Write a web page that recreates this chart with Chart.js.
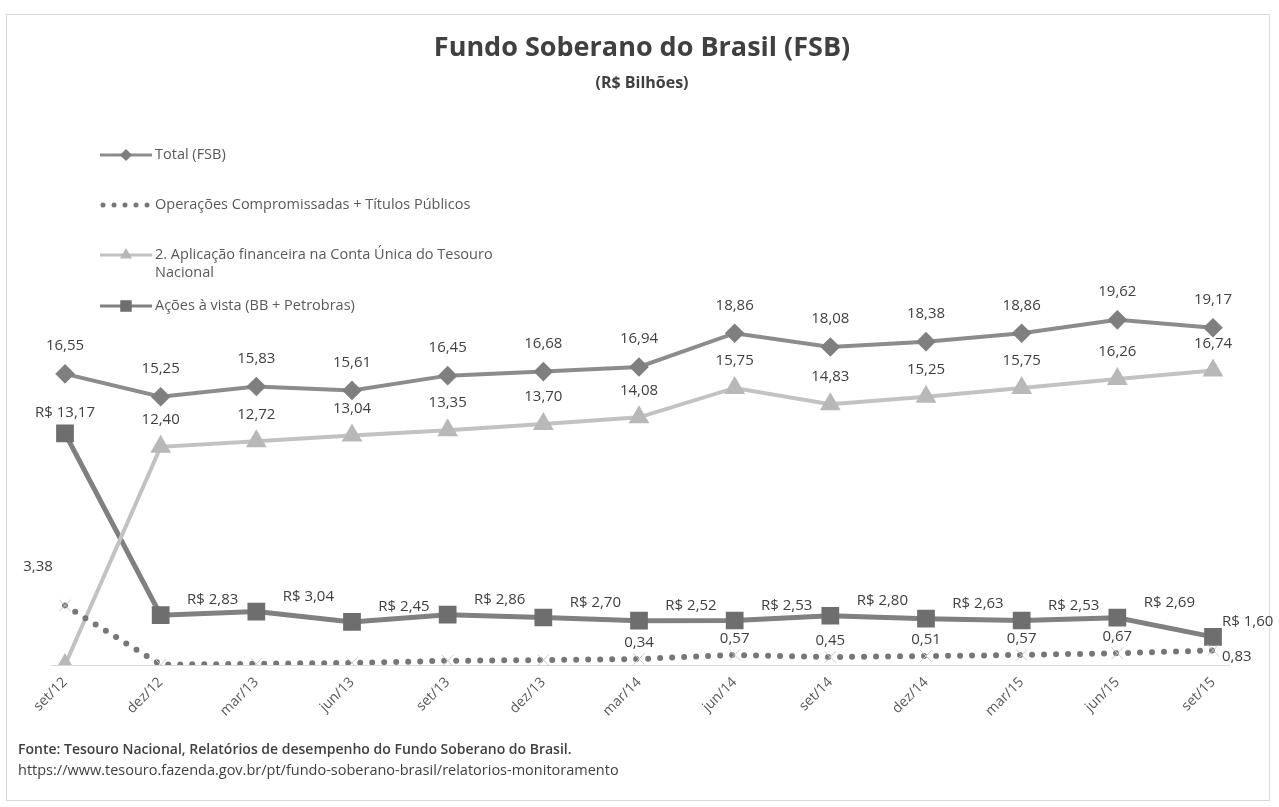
<!DOCTYPE html>
<html lang="pt-BR">
<head>
<meta charset="utf-8">
<title>Fundo Soberano do Brasil (FSB)</title>
<script src="https://cdn.jsdelivr.net/npm/chart.js@4/dist/chart.umd.min.js"></script>
<style>
  html, body { margin: 0; padding: 0; background: #fff; }
  body { width: 1279px; height: 807px; position: relative; overflow: hidden; font-family: "Open Sans", sans-serif; }
  #moldura { position: absolute; left: 6px; top: 14px; width: 1264px; height: 787px; border: 1px solid #d9d9d9; box-sizing: border-box; }
  #grafico { position: absolute; left: 0; top: 0; }
  .titulo { position: absolute; left: 0; width: 1284px; text-align: center; color: #404040; font-weight: 700; }
  #t1 { top: 27px; font-size: 27px; }
  #t2 { top: 71px; font-size: 16px; }
  .fonte { position: absolute; left: 18px; color: #404040; white-space: nowrap; }
  #f1 { top: 739px; font-size: 14px; font-weight: 600; }
  #f2 { top: 760px; font-size: 14.5px; }
</style>
</head>
<body>
<div id="moldura"></div>
<canvas id="grafico" width="1279" height="807"></canvas>
<div class="titulo" id="t1">Fundo Soberano do Brasil (FSB)</div>
<div class="titulo" id="t2">(R$ Bilhões)</div>
<div class="fonte" id="f1">Fonte: Tesouro Nacional, Relatórios de desempenho do Fundo Soberano do Brasil.</div>
<div class="fonte" id="f2">https://www.tesouro.fazenda.gov.br/pt/fundo-soberano-brasil/relatorios-monitoramento</div>
<script>
const categorias = ['set/12', 'dez/12', 'mar/13', 'jun/13', 'set/13', 'dez/13', 'mar/14', 'jun/14', 'set/14', 'dez/14', 'mar/15', 'jun/15', 'set/15'];
const total = [16.55, 15.25, 15.83, 15.61, 16.45, 16.68, 16.94, 18.86, 18.08, 18.38, 18.86, 19.62, 19.17];
const operacoes = [3.38, 0.02, 0.07, 0.12, 0.24, 0.28, 0.34, 0.57, 0.45, 0.51, 0.57, 0.67, 0.83];
const aplicacao = [0, 12.40, 12.72, 13.04, 13.35, 13.70, 14.08, 15.75, 14.83, 15.25, 15.75, 16.26, 16.74];
const acoes = [13.17, 2.83, 3.04, 2.45, 2.86, 2.70, 2.52, 2.53, 2.80, 2.63, 2.53, 2.69, 1.60];
const nomes = ['Total (FSB)', 'Operações Compromissadas + Títulos Públicos', '2. Aplicação financeira na Conta Única do Tesouro|Nacional', 'Ações à vista (BB + Petrobras)'];

const n = categorias.length;
const fmt = v => v.toFixed(2).replace('.', ',');

// posição de cada rótulo (dx, dy, alinhamento) ou null
function posRotulo(ds, j) {
  if (ds === 0) return [0, -28, 'center'];
  if (ds === 2) return j === 0 ? null : [0, -27, 'center'];
  if (ds === 3) {
    if (j === 0) return [0, -21, 'center'];
    if (j === n - 1) return [9, -15, 'left'];
    return [52, -15, 'center'];
  }
  if (ds === 1) {
    if (j === 0) return [-27, -39, 'center'];
    if (j === n - 1) return [9, 6, 'left'];
    return j >= 6 ? [0, -16, 'center'] : null;
  }
  return null;
}

const rotulos = {
  id: 'rotulos',
  beforeDatasetsDraw(chart) {
    const { ctx, chartArea } = chart;
    const y0 = chart.scales.y.getPixelForValue(0);
    ctx.save();
    ctx.strokeStyle = '#d9d9d9';
    ctx.lineWidth = 1;
    ctx.beginPath();
    ctx.moveTo(chartArea.left - 14, y0 + 0.5);
    ctx.lineTo(chartArea.right + 17, y0 + 0.5);
    ctx.stroke();
    ctx.restore();
  },
  afterDatasetsDraw(chart) {
    const ctx = chart.ctx;
    ctx.save();
    ctx.font = '15px "Open Sans"';
    ctx.fillStyle = '#404040';
    ctx.textBaseline = 'middle';
    chart.data.datasets.forEach((ds, i) => {
      chart.getDatasetMeta(i).data.forEach((pt, j) => {
        const p = posRotulo(i, j);
        if (!p) return;
        ctx.textAlign = p[2];
        const txt = (i === 3 ? 'R$ ' : '') + fmt(ds.data[j]);
        ctx.fillText(txt, pt.x + p[0], pt.y + p[1]);
      });
    });

    // legenda
    const ys = [155, 205, 255, 306];
    ctx.font = '14.5px "Open Sans"';
    ctx.textAlign = 'left';
    chart.data.datasets.forEach((ds, i) => {
      const y = ys[i];
      if (i === 1) {
        ctx.fillStyle = ds.borderColor;
        for (let k = 0; k < 5; k++) {
          ctx.beginPath();
          ctx.arc(103 + k * 11, y, 2.5, 0, Math.PI * 2);
          ctx.fill();
        }
      } else {
        ctx.strokeStyle = ds.borderColor;
        ctx.lineWidth = 3;
        ctx.beginPath();
        ctx.moveTo(100, y);
        ctx.lineTo(152, y);
        ctx.stroke();
        ctx.fillStyle = ds.pointBackgroundColor;
        ctx.strokeStyle = ds.pointBorderColor;
        Chart.helpers.drawPoint(ctx, {
          pointStyle: ds.pointStyle, radius: i === 3 ? 6 : 4, rotation: 0, borderWidth: 1
        }, 126, y);
      }
      ctx.fillStyle = '#595959';
      nomes[i].split('|').forEach((linha, k) => ctx.fillText(linha, 155, y + k * 18));
    });
    ctx.restore();
  }
};

new Chart(document.getElementById('grafico'), {
  type: 'line',
  data: {
    labels: categorias,
    datasets: [
      {
        label: nomes[0], data: total,
        borderColor: '#8c8c8c', borderWidth: 4,
        pointStyle: 'rectRot', pointRadius: 7,
        pointBackgroundColor: '#7f7f7f', pointBorderColor: '#7f7f7f'
      },
      {
        label: nomes[1], data: operacoes,
        borderColor: '#767676', borderWidth: 6, borderDash: [0, 12], borderCapStyle: 'round',
        pointStyle: 'crossRot', pointRadius: 8, pointBorderWidth: 1,
        pointBorderColor: '#c8c8c8', pointBackgroundColor: '#c8c8c8'
      },
      {
        label: nomes[2], data: aplicacao,
        borderColor: '#c2c2c2', borderWidth: 4,
        pointStyle: 'triangle', pointRadius: 8,
        pointBackgroundColor: '#b8b8b8', pointBorderColor: '#b8b8b8'
      },
      {
        label: nomes[3], data: acoes,
        borderColor: '#808080', borderWidth: 5,
        pointStyle: 'rect', pointRadius: 9,
        pointBackgroundColor: '#6e6e6e', pointBorderColor: '#6e6e6e'
      }
    ]
  },
  options: {
    responsive: false,
    animation: false,
    layout: { padding: { left: 65, right: 66, top: 278, bottom: 82 } },
    plugins: { legend: { display: false }, tooltip: { enabled: false } },
    scales: {
      x: {
        grid: { display: false, drawTicks: false },
        border: { display: false },
        ticks: { maxRotation: 45, minRotation: 45, padding: 9, color: '#595959', font: { family: 'Open Sans', size: 14 } },
        afterFit: s => { s.height = 60; }
      },
      y: { display: false, min: 0, max: 22 }
    }
  },
  plugins: [rotulos]
});
</script>
</body>
</html>
